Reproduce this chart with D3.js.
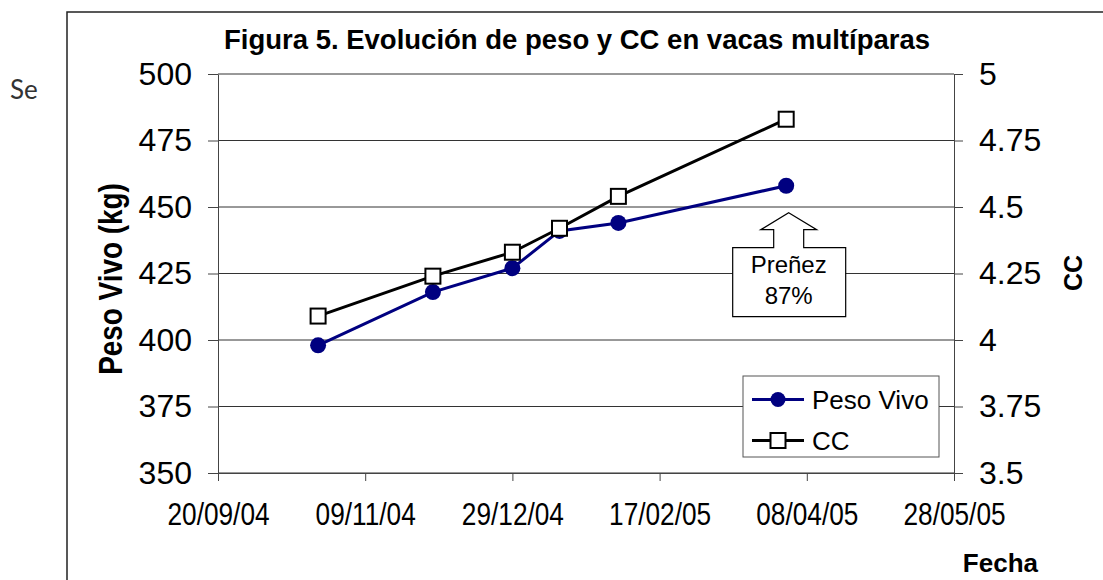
<!DOCTYPE html>
<meta charset="utf-8">
<script src="https://d3js.org/d3.v7.min.js"></script>
<style>
  body { margin: 0; background: #fff; }
  text { font-family: "Liberation Sans", Arial, sans-serif; fill: #000; }
</style>
<div id="chart"></div>
<script>
// datos
var fechas = ["2004-10-24", "2004-12-02", "2004-12-29", "2005-01-14", "2005-02-03", "2005-04-01"];
var pesoVivo = [398, 418, 427, 441, 444, 458];
var cc = [4.09, 4.24, 4.33, 4.42, 4.54, 4.83];
var xTicks = ["2004-09-20", "2004-11-09", "2004-12-29", "2005-02-17", "2005-04-08", "2005-05-28"];
var yLeftTicks = [350, 375, 400, 425, 450, 475, 500];
var yRightTicks = [3.5, 3.75, 4, 4.25, 4.5, 4.75, 5];

var parse = d3.utcParse("%Y-%m-%d");
var fmt = d3.utcFormat("%d/%m/%y");

var W = 1103, H = 580;
var plot = {left: 218, right: 954, top: 74, bottom: 473};

var svg = d3.select("#chart").append("svg")
  .attr("width", W).attr("height", H);

// marco exterior
svg.append("rect")
  .attr("x", 67).attr("y", 12)
  .attr("width", 1100).attr("height", 600)
  .attr("fill", "none").attr("stroke", "#222").attr("stroke-width", 1.5);

svg.append("text")
  .attr("x", 10).attr("y", 99)
  .style("font-family", "Lato, sans-serif")
  .style("font-size", "26px").style("fill", "#333")
  .text("Se");

var x = d3.scaleUtc()
  .domain([parse(xTicks[0]), parse(xTicks[xTicks.length - 1])])
  .range([plot.left, plot.right]);
var yL = d3.scaleLinear().domain([350, 500]).range([plot.bottom, plot.top]);
var yR = d3.scaleLinear().domain([3.5, 5]).range([plot.bottom, plot.top]);

// lineas de division
svg.append("g").selectAll("line")
  .data(yLeftTicks)
  .join("line")
  .attr("x1", plot.left).attr("x2", plot.right)
  .attr("y1", function(d) { return yL(d); })
  .attr("y2", function(d) { return yL(d); })
  .attr("stroke", "#333").attr("stroke-width", 1);

// eje izquierdo
var gL = svg.append("g")
  .attr("transform", "translate(" + plot.left + ",0)")
  .call(d3.axisLeft(yL).tickValues(yLeftTicks).tickSize(10).tickSizeOuter(0).tickPadding(16));
gL.selectAll("text").style("font-size", "32px").attr("font-family", null);

// eje derecho
var gR = svg.append("g")
  .attr("transform", "translate(" + plot.right + ",0)")
  .call(d3.axisRight(yR).tickValues(yRightTicks).tickFormat(d3.format("")).tickSize(9).tickSizeOuter(0).tickPadding(16));
gR.selectAll("text").style("font-size", "32px").attr("font-family", null);

// eje x (letra estrecha)
var gX = svg.append("g")
  .attr("transform", "translate(0," + plot.bottom + ")")
  .call(d3.axisBottom(x).tickValues(xTicks.map(parse)).tickFormat(fmt).tickSize(8).tickSizeOuter(0).tickPadding(21));
gX.selectAll("text")
  .attr("font-family", null)
  .attr("transform", "scale(0.82,1)")
  .style("font-size", "32px");

[gL, gR, gX].forEach(function(g) {
  g.select(".domain").attr("stroke", "#444");
  g.selectAll(".tick line").attr("stroke", "#444");
});

// series
var puntos = fechas.map(function(f, i) { return {fecha: parse(f), peso: pesoVivo[i], cc: cc[i]}; });

var lineaCC = d3.line()
  .x(function(d) { return x(d.fecha); })
  .y(function(d) { return yR(d.cc); });
var lineaPeso = d3.line()
  .x(function(d) { return x(d.fecha); })
  .y(function(d) { return yL(d.peso); });

svg.append("path").datum(puntos)
  .attr("d", lineaPeso)
  .attr("fill", "none").attr("stroke", "#000080").attr("stroke-width", 3);

svg.append("g").selectAll("circle")
  .data(puntos)
  .join("circle")
  .attr("cx", function(d) { return x(d.fecha); })
  .attr("cy", function(d) { return yL(d.peso); })
  .attr("r", 8)
  .attr("fill", "#000080");

svg.append("path").datum(puntos)
  .attr("d", lineaCC)
  .attr("fill", "none").attr("stroke", "#000").attr("stroke-width", 3);

svg.append("g").selectAll("rect")
  .data(puntos)
  .join("rect")
  .attr("x", function(d) { return x(d.fecha) - 7.5; })
  .attr("y", function(d) { return yR(d.cc) - 7.5; })
  .attr("width", 15).attr("height", 15)
  .attr("fill", "#fff").attr("stroke", "#000").attr("stroke-width", 2);

// titulo
svg.append("text")
  .attr("x", 577).attr("y", 49)
  .attr("text-anchor", "middle")
  .style("font-weight", "bold").style("font-size", "27.5px")
  .text("Figura 5. Evolución de peso y CC en vacas multíparas");

svg.append("text")
  .attr("transform", "translate(122,279) rotate(-90) scale(0.82,1)")
  .attr("text-anchor", "middle")
  .style("font-weight", "bold").style("font-size", "34px")
  .text("Peso Vivo (kg)");

svg.append("text")
  .attr("transform", "translate(1082,273) rotate(-90)")
  .attr("text-anchor", "middle")
  .style("font-weight", "bold").style("font-size", "25px")
  .text("CC");

svg.append("text")
  .attr("x", 1038).attr("y", 572)
  .attr("text-anchor", "end")
  .style("font-weight", "bold").style("font-size", "26px")
  .text("Fecha");

// llamada "Preñez 87%" bajo el ultimo punto
var ult = puntos[puntos.length - 1];
var tx = x(ult.fecha) + 2.5, ty = yL(ult.peso) + 27;
var flecha = [
  [tx, ty], [tx + 28, ty + 17], [tx + 15, ty + 17], [tx + 15, ty + 35],
  [tx + 57, ty + 35], [tx + 57, ty + 104], [tx - 56, ty + 104], [tx - 56, ty + 35],
  [tx - 15, ty + 35], [tx - 15, ty + 17], [tx - 28, ty + 17]
];
svg.append("path")
  .attr("d", d3.line()(flecha) + "Z")
  .attr("fill", "#fff").attr("stroke", "#000").attr("stroke-width", 1.2);
svg.append("text")
  .attr("x", tx).attr("y", ty + 60)
  .attr("text-anchor", "middle").style("font-size", "24px")
  .text("Preñez");
svg.append("text")
  .attr("x", tx).attr("y", ty + 91)
  .attr("text-anchor", "middle").style("font-size", "24px")
  .text("87%");

// leyenda
var leg = svg.append("g").attr("transform", "translate(743,376)");
leg.append("rect")
  .attr("width", 196).attr("height", 81)
  .attr("fill", "#fff").attr("stroke", "#555").attr("stroke-width", 1);
var items = [{nombre: "Peso Vivo", color: "#000080", forma: "circulo"}, {nombre: "CC", color: "#000", forma: "cuadro"}];
items.forEach(function(it, i) {
  var yy = 23.5 + i * 41;
  leg.append("line")
    .attr("x1", 9).attr("x2", 61).attr("y1", yy).attr("y2", yy)
    .attr("stroke", it.color).attr("stroke-width", 3);
  if (it.forma === "circulo") {
    leg.append("circle").attr("cx", 35).attr("cy", yy).attr("r", 7.5).attr("fill", it.color);
  } else {
    leg.append("rect").attr("x", 27.5).attr("y", yy - 7.5).attr("width", 15).attr("height", 15)
      .attr("fill", "#fff").attr("stroke", "#000").attr("stroke-width", 2);
  }
  leg.append("text")
    .attr("x", 69).attr("y", yy + 9)
    .style("font-size", "26px")
    .text(it.nombre);
});
</script>
